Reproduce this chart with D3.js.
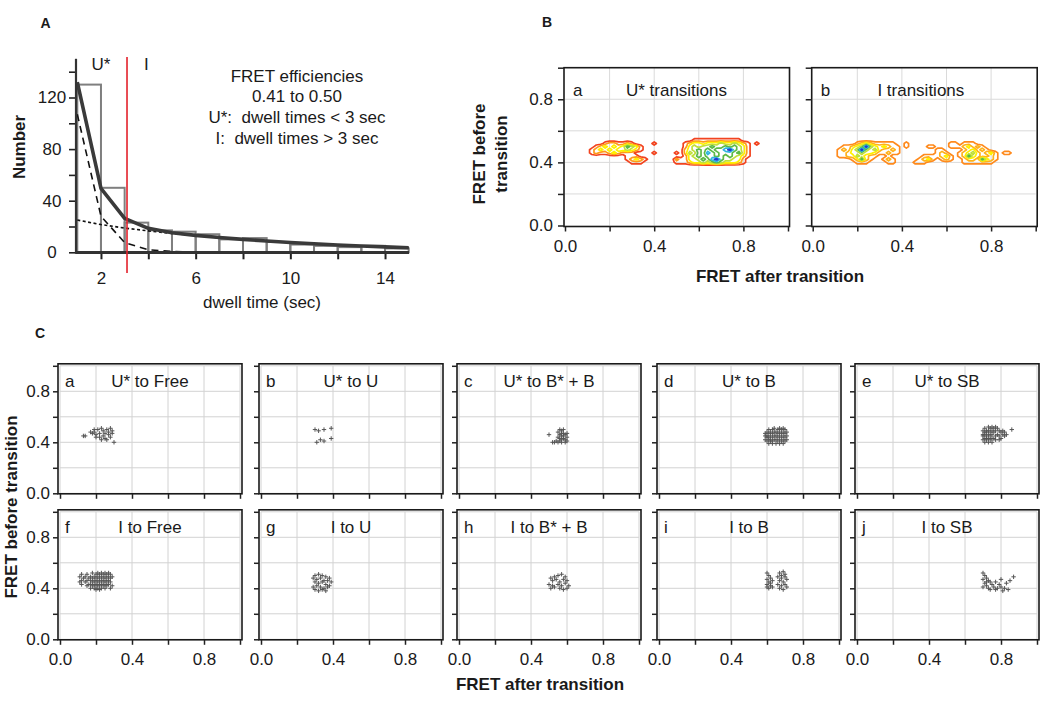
<!DOCTYPE html>
<html><head><meta charset="utf-8">
<script src="https://cdn.jsdelivr.net/npm/d3@7"></script>
<style>
body{margin:0;background:#fff;}
text{font-family:"Liberation Sans",Arial,Helvetica,sans-serif;fill:#1a1a1a;}
</style></head><body>
<svg id="chart" width="1050" height="703"></svg>
<script>
// ================= DATA =================
// Panel A: dwell-time histogram (1-s bins) and fit curves
const histBinStart = [1,2,3,4,5,6,7,8,9,10,11,12,13,14];
const histCounts   = [130,50,23,17,16,14,10,11,8,6,5,4,5,3];
const fitTime  = [1,2,3,4,5,6,7,8,9,10,11,12,13,14,15];
const fitTotal = [132,49.5,26.3,18.6,15.2,13.1,11.5,10,8.8,7.6,6.6,5.7,4.9,4.2,3.5];
const fitFast  = [107,28,7.5,2,0.6,0.2,0.1,0,0,0,0,0,0,0,0];
const fitSlow  = [25,21.5,18.8,16.6,14.6,12.9,11.4,10,8.8,7.6,6.6,5.7,4.9,4.2,3.5];
const aXTicks  = [2,4,6,8,10,12,14];
const aXLabels = [2,6,10,14];
const aYTicks  = [0,20,40,60,80,100,120,140];
const aYLabels = [0,40,80,120];
const dwellCutoff = 3.1;
const aNotes = ["FRET efficiencies","0.41 to 0.50","U*:  dwell times < 3 sec","I:  dwell times > 3 sec"];

// Panel B: transition density maps (levels 0-7), grid x = 0.10..0.90 step 0.02, rows y = 0.56..0.36
const gridX0 = 0.10, gridYTop = 0.56, gridStep = 0.02, gridCols = 41;
const gridUstar = [
"00000000000000000000000000000000000000000",
"00000000000000000000000011111111111000000",
"00001221121000010000001233233343343210100",
"00123232354310000000001343445445454310000",
"01232323343210000000002345454556754310000",
"01211232111000010000102435465455545310000",
"00000000011100000000001345455454543210000",
"00000000012321000000211334546754433100000",
"00000000001110000000111233434543332100000",
"00000000000000000000000000000000000000000",
"00000000000000000000000000000000000000000"];
const gridI = [
"00000000000000000000000000000000000000000",
"00000000000000000000000000000000000000000",
"00000123211111001000000000110111000000000",
"00112347432321101000011000111231210000000",
"01213474342112100000000110000123121000000",
"01123343321121100000000121001234212310110",
"01122432110010000000111123101253211210000",
"00001252100121000001231012100122153210000",
"00000111000011000011100000000111111100000",
"00000000000000000000000000000000000000000",
"00000000000000000000000000000000000000000"];
const contourLevels = [0.5,1.5,2.5,3.5,4.5,5.5,6.5];
const contourColorsA = ["#f2431f","#ff9a1a","#fff000","#bfe03a","#5cba47","#2fb6e0","#1f3bd0"];
const contourColorsB = ["#ff8a1c","#ffb21a","#fff000","#bfe03a","#5cba47","#2fb6e0","#1f3bd0"];
const bLetters = ["a","b"];
const bTitles  = ["U* transitions","I transitions"];
const bTitlePos = [0.5, 0.485];

// Panel C: scatter points [FRET after, FRET before]
const ptsUFree = [[0.13,0.45],[0.14,0.45],[0.18,0.47],[0.19,0.48],[0.20,0.46],[0.21,0.50],[0.22,0.47],[0.22,0.44],[0.23,0.51],[0.24,0.49],[0.24,0.45],[0.25,0.47],[0.25,0.43],[0.26,0.50],[0.26,0.42],[0.27,0.48],[0.27,0.46],[0.28,0.51],[0.28,0.44],[0.29,0.49],[0.29,0.47],[0.20,0.44],[0.17,0.48],[0.30,0.40],[0.23,0.42],[0.19,0.50]];
const ptsUU = [[0.30,0.50],[0.32,0.49],[0.35,0.50],[0.39,0.51],[0.31,0.40],[0.33,0.42],[0.35,0.41],[0.39,0.43]];
const ptsUBB = [[0.50,0.46],[0.52,0.40],[0.55,0.48],[0.56,0.50],[0.57,0.49],[0.58,0.50],[0.56,0.46],[0.57,0.45],[0.58,0.47],[0.59,0.46],[0.55,0.44],[0.56,0.43],[0.57,0.42],[0.58,0.43],[0.59,0.42],[0.60,0.44],[0.54,0.41],[0.55,0.40],[0.57,0.40],[0.59,0.40],[0.60,0.41],[0.58,0.45],[0.56,0.41],[0.53,0.40],[0.60,0.47],[0.57,0.47]];
const ptsUB = [[0.64,0.51],[0.67,0.51],[0.69,0.51],
[0.61,0.50],[0.63,0.50],[0.66,0.50],[0.68,0.50],[0.70,0.50],
[0.60,0.48],[0.62,0.48],[0.64,0.48],[0.65,0.48],[0.67,0.48],[0.69,0.48],[0.71,0.48],
[0.59,0.47],[0.61,0.47],[0.63,0.47],[0.66,0.47],[0.68,0.47],[0.70,0.47],
[0.59,0.45],[0.60,0.45],[0.62,0.45],[0.64,0.45],[0.65,0.45],[0.67,0.45],[0.69,0.45],[0.71,0.45],
[0.60,0.44],[0.61,0.44],[0.63,0.44],[0.66,0.44],[0.68,0.44],[0.70,0.44],
[0.59,0.42],[0.61,0.42],[0.62,0.42],[0.64,0.42],[0.65,0.42],[0.67,0.42],[0.69,0.42],[0.71,0.42],
[0.60,0.41],[0.62,0.41],[0.63,0.41],[0.66,0.41],[0.68,0.41],[0.70,0.41],
[0.61,0.39],[0.63,0.39],[0.65,0.39],[0.67,0.39],[0.69,0.39]];
const ptsUSB = [[0.73,0.52],[0.75,0.52],[0.77,0.52],
[0.71,0.51],[0.74,0.51],[0.76,0.51],[0.78,0.51],
[0.70,0.49],[0.72,0.49],[0.73,0.49],[0.75,0.49],[0.77,0.49],[0.79,0.49],[0.81,0.49],
[0.71,0.48],[0.72,0.48],[0.74,0.48],[0.76,0.48],[0.80,0.48],[0.82,0.48],
[0.70,0.46],[0.71,0.46],[0.73,0.46],[0.75,0.46],[0.78,0.46],[0.81,0.46],[0.83,0.46],
[0.70,0.45],[0.72,0.45],[0.74,0.45],[0.77,0.45],[0.79,0.45],[0.82,0.45],
[0.71,0.43],[0.72,0.43],[0.73,0.43],[0.75,0.43],[0.76,0.43],[0.80,0.43],
[0.70,0.42],[0.72,0.42],[0.74,0.42],[0.77,0.42],[0.79,0.42],
[0.71,0.40],[0.73,0.40],[0.75,0.40],[0.86,0.50]];
const ptsIFree = [[0.18,0.52],[0.21,0.52],[0.23,0.52],[0.25,0.52],[0.27,0.52],
[0.12,0.51],[0.15,0.51],[0.20,0.51],[0.22,0.51],[0.24,0.51],[0.26,0.51],[0.28,0.51],
[0.11,0.49],[0.14,0.49],[0.17,0.49],[0.19,0.49],[0.21,0.49],[0.23,0.49],[0.25,0.49],[0.27,0.49],[0.29,0.49],
[0.13,0.48],[0.16,0.48],[0.18,0.48],[0.20,0.48],[0.22,0.48],[0.24,0.48],[0.26,0.48],[0.28,0.48],
[0.12,0.46],[0.15,0.46],[0.17,0.46],[0.19,0.46],[0.21,0.46],[0.23,0.46],[0.25,0.46],[0.27,0.46],
[0.11,0.45],[0.14,0.45],[0.18,0.45],[0.20,0.45],[0.22,0.45],[0.24,0.45],[0.26,0.45],[0.28,0.45],
[0.12,0.43],[0.16,0.43],[0.17,0.43],[0.19,0.43],[0.21,0.43],[0.23,0.43],[0.25,0.43],[0.27,0.43],
[0.15,0.42],[0.18,0.42],[0.20,0.42],[0.22,0.42],[0.24,0.42],[0.26,0.42],[0.29,0.42],
[0.17,0.40],[0.19,0.40],[0.21,0.40],[0.23,0.40],[0.25,0.40],[0.28,0.40],
[0.20,0.39],[0.22,0.39]];
const ptsIU = [[0.30,0.50],[0.32,0.51],[0.34,0.50],[0.36,0.49],[0.38,0.48],[0.29,0.48],[0.31,0.47],[0.33,0.48],[0.35,0.46],[0.37,0.46],[0.39,0.45],[0.30,0.45],[0.32,0.44],[0.34,0.45],[0.36,0.43],[0.38,0.42],[0.31,0.42],[0.33,0.41],[0.35,0.40],[0.37,0.41],[0.30,0.39],[0.32,0.38],[0.34,0.39],[0.29,0.41],[0.36,0.38]];
const ptsIBB = [[0.51,0.48],[0.53,0.49],[0.55,0.50],[0.57,0.51],[0.59,0.49],[0.52,0.46],[0.54,0.47],[0.56,0.45],[0.58,0.47],[0.60,0.46],[0.50,0.43],[0.52,0.42],[0.55,0.43],[0.57,0.42],[0.59,0.44],[0.61,0.42],[0.51,0.40],[0.53,0.41],[0.56,0.40],[0.60,0.40],[0.58,0.39]];
const ptsIB = [[0.60,0.52],[0.61,0.50],[0.62,0.48],[0.60,0.47],[0.61,0.45],[0.63,0.46],[0.60,0.43],[0.62,0.42],[0.61,0.40],[0.63,0.41],[0.62,0.44],[0.60,0.41],[0.67,0.52],[0.69,0.53],[0.70,0.51],[0.66,0.49],[0.68,0.48],[0.70,0.49],[0.67,0.46],[0.69,0.45],[0.71,0.47],[0.66,0.43],[0.68,0.42],[0.70,0.43],[0.67,0.40],[0.69,0.39],[0.71,0.41],[0.68,0.50]];
const ptsISB = [[0.70,0.52],[0.71,0.50],[0.72,0.48],[0.70,0.47],[0.73,0.46],[0.71,0.44],[0.74,0.45],[0.72,0.42],[0.75,0.43],[0.70,0.41],[0.73,0.40],[0.76,0.41],[0.78,0.40],[0.80,0.41],[0.82,0.40],[0.79,0.43],[0.77,0.45],[0.80,0.47],[0.83,0.44],[0.85,0.46],[0.87,0.49],[0.84,0.39],[0.74,0.39],[0.77,0.39],[0.72,0.45],[0.81,0.38]];
const cLetters = ["a","b","c","d","e","f","g","h","i","j"];
const cTitles  = ["U* to Free","U* to U","U* to B* + B","U* to B","U* to SB","I to Free","I to U","I to B* + B","I to B","I to SB"];
const cPoints  = [ptsUFree, ptsUU, ptsUBB, ptsUB, ptsUSB, ptsIFree, ptsIU, ptsIBB, ptsIB, ptsISB];
const fretTicks  = [0,0.2,0.4,0.6,0.8,1.0];
const fretLabels = [0,0.4,0.8];

// ================= DRAWING =================
const svg = d3.select("#chart");
const FS = 17;
const fmt1 = d3.format(".1f");
const isLab = d => fretLabels.some(v => Math.abs(v - d) < 1e-9);

function styleAxis(g, w){
  g.select(".domain").remove();
  g.selectAll(".tick line").attr("stroke","#222").attr("stroke-width", w);
  g.selectAll(".tick text").attr("font-size", FS);
}

// ---------- Panel A ----------
const xA = d3.scaleLinear().domain([1,15]).range([77.3,408.7]);
const yA = d3.scaleLinear().domain([0,150]).range([252.3,58.8]);
const gA = svg.append("g");
gA.selectAll("rect.bar").data(histBinStart.map((s,i)=>({s, c: histCounts[i]}))).join("rect")
  .attr("class","bar")
  .attr("x", d=>xA(d.s)).attr("width", d=>xA(d.s+1)-xA(d.s))
  .attr("y", d=>yA(d.c)).attr("height", d=>yA(0)-yA(d.c))
  .attr("fill","none").attr("stroke","#7f7f7f").attr("stroke-width",2);
const lineA = d3.line().x(d=>xA(d[0])).y(d=>yA(d[1]));
gA.append("path").attr("d", lineA(fitTime.map((t,i)=>[t, fitSlow[i]])))
  .attr("fill","none").attr("stroke","#111").attr("stroke-width",1.6).attr("stroke-dasharray","3,2.5");
gA.append("path").attr("d", lineA(fitTime.map((t,i)=>[t, fitFast[i]])))
  .attr("fill","none").attr("stroke","#111").attr("stroke-width",1.6).attr("stroke-dasharray","7,5");
gA.append("path").attr("d", lineA(fitTime.map((t,i)=>[t, fitTotal[i]])))
  .attr("fill","none").attr("stroke","#3a3a3a").attr("stroke-width",3.6).attr("stroke-linejoin","round");
// axes
const axXA = gA.append("g").attr("transform",`translate(0,${yA(0)})`)
  .call(d3.axisBottom(xA).tickValues(aXTicks).tickSize(7).tickPadding(13).tickFormat(d=>aXLabels.includes(d)?d:""));
styleAxis(axXA, 2);
const axYA = gA.append("g").attr("transform",`translate(76,0)`)
  .call(d3.axisLeft(yA).tickValues(aYTicks).tickSize(7).tickFormat(""));
styleAxis(axYA, 1.6);
gA.selectAll("text.ylabA").data(aYLabels).join("text").attr("class","ylabA")
  .attr("x",52).attr("y",d=>yA(d)).attr("dy","0.35em").attr("text-anchor","middle").attr("font-size",FS).text(d=>d);
gA.append("line").attr("x1",76).attr("x2",409).attr("y1",yA(0)+0.3).attr("y2",yA(0)+0.3).attr("stroke","#333").attr("stroke-width",3);
gA.append("line").attr("x1",76).attr("x2",76).attr("y1",yA(150)).attr("y2",yA(0)+1.5).attr("stroke","#333").attr("stroke-width",2.2);
gA.append("line").attr("x1",xA(dwellCutoff)).attr("x2",xA(dwellCutoff)).attr("y1",57).attr("y2",273)
  .attr("stroke","#e3212b").attr("stroke-width",1.6);
gA.append("text").attr("x",xA(2)).attr("y",70).attr("text-anchor","middle").attr("font-size",FS).text("U*");
gA.append("text").attr("x",144).attr("y",70).attr("font-size",FS).text("I");
gA.selectAll("text.note").data(aNotes).join("text").attr("class","note")
  .attr("x",297).attr("y",(d,i)=>81.7+i*20.6).attr("text-anchor","middle").attr("font-size",FS)
  .style("white-space","pre").text(d=>d);
gA.append("text").attr("transform","translate(25,147) rotate(-90)").attr("text-anchor","middle")
  .attr("font-size",FS).attr("font-weight","bold").text("Number");
gA.append("text").attr("x",262).attr("y",308).attr("text-anchor","middle").attr("font-size",FS).text("dwell time (sec)");
svg.append("text").attr("x",40.5).attr("y",28.3).attr("font-size",14).attr("font-weight","bold").text("A");

// ---------- Panel B ----------
svg.append("text").attr("x",542).attr("y",27).attr("font-size",14).attr("font-weight","bold").text("B");
const bX0 = [565, 812.7], bUnitX = 223, bY0 = 225.5, bUnitY = 157.8;
[gridUstar, gridI].forEach((grid, k) => {
  const x = d3.scaleLinear().domain([0,1]).range([bX0[k], bX0[k]+bUnitX]);
  const y = d3.scaleLinear().domain([0,1]).range([bY0, bY0-bUnitY]);
  const g = svg.append("g");
  const inner = [0.2,0.4,0.6,0.8];
  g.selectAll("line.gv").data(inner).join("line").attr("x1",d=>x(d)).attr("x2",d=>x(d)).attr("y1",y(1)).attr("y2",y(0))
    .attr("stroke","#dadada").attr("stroke-width",1);
  g.selectAll("line.gh").data(inner).join("line").attr("y1",d=>y(d)).attr("y2",d=>y(d)).attr("x1",x(0)).attr("x2",x(1))
    .attr("stroke","#dadada").attr("stroke-width",1);
  const rows = grid.length;
  const vals = grid.flatMap(r => r.padEnd(gridCols,"0").slice(0,gridCols).split("").map(Number));
  const cs = d3.contours().size([gridCols, rows]).thresholds(contourLevels)(vals);
  const proj = d3.geoTransform({point: function(gx, gy){
    this.stream.point(x(gridX0 + gridStep*(gx-0.5)), y(gridYTop - gridStep*(gy-0.5)));
  }});
  const path = d3.geoPath(proj);
  const cols = k === 0 ? contourColorsA : contourColorsB;
  g.selectAll("path.ct").data(cs).join("path").attr("d", path).attr("fill","none")
    .attr("stroke",(d,i)=>cols[i]).attr("stroke-width",1.7).attr("stroke-linejoin","round");
  g.append("rect").attr("x",x(0)-1).attr("y",y(1)).attr("width",x(1)-x(0)+2.5).attr("height",y(0)-y(1)+1)
    .attr("fill","none").attr("stroke","#1a1a1a").attr("stroke-width",1.6);
  const ay = g.append("g").attr("transform",`translate(${x(0)-1},0)`)
    .call(d3.axisLeft(y).tickValues(fretTicks).tickSize(6).tickPadding(5).tickFormat(d => (k===0 && isLab(d)) ? fmt1(d) : ""));
  styleAxis(ay, 1.5);
  const ax = g.append("g").attr("transform",`translate(0,${y(0)+1})`)
    .call(d3.axisBottom(x).tickValues(fretTicks).tickSize(5).tickPadding(8).tickFormat(d => isLab(d) ? fmt1(d) : ""));
  styleAxis(ax, 1.5);
  g.append("text").attr("x",x(0)+8).attr("y",95.5).attr("font-size",FS).text(bLetters[k]);
  g.append("text").attr("x",x(bTitlePos[k])).attr("y",96).attr("text-anchor","middle").attr("font-size",FS).text(bTitles[k]);
});
svg.append("text").attr("transform","translate(485,154) rotate(-90)").attr("text-anchor","middle")
  .attr("font-size",FS).attr("font-weight","bold").text("FRET before");
svg.append("text").attr("transform","translate(507,154) rotate(-90)").attr("text-anchor","middle")
  .attr("font-size",FS).attr("font-weight","bold").text("transition");
svg.append("text").attr("x",780).attr("y",282).attr("text-anchor","middle")
  .attr("font-size",FS).attr("font-weight","bold").text("FRET after transition");

// ---------- Panel C ----------
svg.append("text").attr("x",35).attr("y",338).attr("font-size",14).attr("font-weight","bold").text("C");
const cColX0 = [60, 261, 459, 659, 857], cUnitX = 180, cRowY0 = [493.3, 639.3], cUnitY = 127.5;
cPoints.forEach((pts, k) => {
  const col = k % 5, row = Math.floor(k / 5);
  const x = d3.scaleLinear().domain([0,1]).range([cColX0[col], cColX0[col]+cUnitX]);
  const y = d3.scaleLinear().domain([0,1]).range([cRowY0[row], cRowY0[row]-cUnitY]);
  const g = svg.append("g");
  g.selectAll("line.gv").data(fretTicks).join("line").attr("x1",d=>x(d)).attr("x2",d=>x(d)).attr("y1",y(1)).attr("y2",y(0))
    .attr("stroke","#d2d2d2").attr("stroke-width",1);
  g.selectAll("line.gh").data(fretTicks).join("line").attr("y1",d=>y(d)).attr("y2",d=>y(d)).attr("x1",x(0)).attr("x2",x(1))
    .attr("stroke","#d2d2d2").attr("stroke-width",1);
  g.append("rect").attr("x",x(0)-2).attr("y",y(1)-2).attr("width",x(1)-x(0)+4).attr("height",y(0)-y(1)+2.5)
    .attr("fill","none").attr("stroke","#1a1a1a").attr("stroke-width",1.6);
  g.selectAll("path.pt").data(pts).join("path").attr("class","pt")
    .attr("transform",d=>`translate(${x(d[0])},${y(d[1])})`)
    .attr("d","M-2.2,0H2.2M0,-2.2V2.2").attr("stroke","#555").attr("stroke-width",1).attr("fill","none");
  const ay = g.append("g").attr("transform",`translate(${x(0)-2},0)`)
    .call(d3.axisLeft(y).tickValues(fretTicks).tickSize(5).tickPadding(3).tickFormat(d => (col===0 && isLab(d)) ? fmt1(d) : ""));
  styleAxis(ay, 1.5);
  const ax = g.append("g").attr("transform",`translate(0,${y(0)+0.5})`)
    .call(d3.axisBottom(x).tickValues(fretTicks).tickSize(5).tickPadding(8).tickFormat(d => (row===1 && isLab(d)) ? fmt1(d) : ""));
  styleAxis(ax, 1.5);
  g.append("text").attr("x",x(0)+5).attr("y",y(1)+21).attr("font-size",FS).text(cLetters[k]);
  g.append("text").attr("x",x(0.5)).attr("y",y(1)+21).attr("text-anchor","middle").attr("font-size",FS).text(cTitles[k]);
});
svg.append("text").attr("transform","translate(17,507) rotate(-90)").attr("text-anchor","middle")
  .attr("font-size",FS).attr("font-weight","bold").text("FRET before transition");
svg.append("text").attr("x",540).attr("y",690).attr("text-anchor","middle")
  .attr("font-size",FS).attr("font-weight","bold").text("FRET after transition");
</script>
</body></html>
